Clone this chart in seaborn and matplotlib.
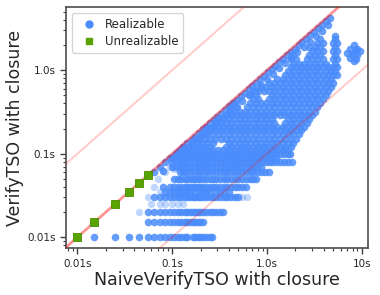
import matplotlib
matplotlib.use("Agg")
import matplotlib.pyplot as plt
import seaborn as sns
import pandas as pd
from matplotlib.lines import Line2D
from matplotlib.ticker import NullFormatter

# unrealizable instances (seconds)
unreal_naive = [0.01, 0.015, 0.025, 0.035, 0.045, 0.055]
unreal_verify = [0.01, 0.015, 0.025, 0.035, 0.045, 0.055]

# realizable instances, low VerifyTSO times come in rows (5 ms timer)
row_verify = [0.01, 0.015, 0.02, 0.03, 0.035, 0.04, 0.05, 0.06, 0.07, 0.08, 0.09, 0.1]
row_naive = [
    [0.015, 0.025, 0.035, 0.045, 0.055, 0.065, 0.075, 0.085, 0.095, 0.105, 0.115, 0.125, 0.135, 0.145,
     0.165, 0.175, 0.185, 0.195, 0.21, 0.23, 0.25, 0.265],
    [0.055, 0.065, 0.075, 0.085, 0.095, 0.105, 0.115, 0.125, 0.135, 0.145, 0.155, 0.165, 0.175, 0.185,
     0.195, 0.21],
    [0.055, 0.065, 0.075, 0.085, 0.095, 0.105, 0.115, 0.125, 0.135, 0.145, 0.155, 0.165, 0.175,
     0.185, 0.195, 0.21, 0.23, 0.25, 0.27, 0.29, 0.32, 0.34],
    [0.065, 0.075, 0.085, 0.095, 0.105, 0.115, 0.125, 0.135, 0.145, 0.155, 0.165, 0.175, 0.185,
     0.195, 0.21, 0.23, 0.25, 0.27, 0.29, 0.32, 0.35, 0.38, 0.42, 0.46, 0.5],
    [0.085, 0.095, 0.105, 0.115, 0.125, 0.135, 0.145, 0.155, 0.175, 0.195, 0.21, 0.23, 0.25,
     0.29, 0.32, 0.35, 0.4],
    [0.08, 0.095, 0.105, 0.115, 0.125, 0.135, 0.145, 0.155, 0.165, 0.175, 0.185, 0.195, 0.21, 0.23,
     0.25, 0.27, 0.29, 0.32, 0.35, 0.38, 0.42, 0.46, 0.5, 0.55, 0.6],
    [0.105, 0.115, 0.125, 0.135, 0.145, 0.155, 0.165, 0.175, 0.185, 0.195, 0.21, 0.23, 0.25,
     0.27, 0.29, 0.32, 0.35, 0.38, 0.42, 0.46, 0.5, 0.55, 0.6, 0.66, 0.72, 0.77],
    [0.12, 0.13, 0.14, 0.155, 0.17, 0.185, 0.2, 0.22, 0.24, 0.265, 0.29, 0.32, 0.35,
     0.38, 0.42, 0.46, 0.5, 0.55, 0.6, 0.66, 0.72, 0.79, 0.87, 0.95, 1.04],
    [0.1, 0.11, 0.12, 0.13, 0.14, 0.155, 0.17, 0.185, 0.2, 0.22, 0.24, 0.265, 0.29, 0.32, 0.35, 0.38,
     0.42, 0.46, 0.5, 0.55, 0.6, 0.66, 0.72, 0.79, 0.87],
    [0.11, 0.12, 0.13, 0.14, 0.155, 0.17, 0.185, 0.2, 0.22, 0.24, 0.265, 0.29, 0.32, 0.35, 0.38, 0.42,
     0.46, 0.5, 0.55, 0.6, 0.66, 0.72, 0.79, 0.87, 0.95, 1.04, 1.14, 1.25, 1.37, 1.5, 1.65, 1.85],
    [0.1, 0.11, 0.12, 0.13, 0.14, 0.155, 0.17, 0.185, 0.2, 0.22, 0.24, 0.265, 0.29, 0.32, 0.35, 0.38,
     0.42, 0.46, 0.5, 0.55, 0.6, 0.66, 0.72, 0.79, 0.87, 0.95, 1.04, 1.14, 1.25],
    [0.11, 0.12, 0.13, 0.14, 0.155, 0.17, 0.185, 0.2, 0.22, 0.24, 0.265, 0.29, 0.32, 0.35, 0.38, 0.42,
     0.46, 0.5, 0.55, 0.6, 0.66, 0.72, 0.79, 0.87, 0.95, 1.04, 1.14, 1.25, 1.37, 1.5, 1.65, 1.75],
]

# single (faint) realizable runs at the edges of the rows
faint_naive = [0.045, 0.06, 0.075, 0.085, 0.1, 0.115, 0.13, 0.055, 0.065, 0.075, 0.55, 0.62,
               0.085, 0.095, 0.105, 0.13, 0.15, 0.5, 0.42, 0.19, 0.07]
faint_verify = [0.02, 0.025, 0.025, 0.025, 0.025, 0.025, 0.025, 0.03, 0.04, 0.035, 0.03, 0.03,
                0.06, 0.07, 0.065, 0.1, 0.115, 0.065, 0.075, 0.13, 0.05]

# realizable instances above 0.1 s, the main cloud under the diagonal
cloud_verify = [0.11, 0.12, 0.135, 0.15, 0.17, 0.19, 0.21, 0.235, 0.26, 0.29, 0.32, 0.36, 0.4, 0.45,
                0.5, 0.56, 0.63, 0.7, 0.78, 0.87, 0.97, 1.08, 1.2, 1.35, 1.5, 1.68, 1.88, 2.1, 2.35, 2.6]
cloud_naive = [
    [0.122, 0.14, 0.16, 0.182, 0.207, 0.235, 0.267, 0.305, 0.347, 0.395, 0.45, 0.515, 0.585, 0.665,
     0.76, 0.865, 0.985, 1.12, 1.28, 1.46, 1.67],
    [0.13, 0.15, 0.17, 0.195, 0.22, 0.25, 0.37, 0.42, 0.48, 0.55, 0.62, 0.71, 0.81,
     0.92, 1.05, 1.2, 1.37, 1.56, 1.78],
    [0.16, 0.182, 0.207, 0.235, 0.267, 0.395, 0.45, 0.515, 0.585, 0.665, 0.76, 0.865,
     0.985, 1.12, 1.28, 1.46, 1.67, 1.9],
    [0.17, 0.195, 0.22, 0.25, 0.285, 0.325, 0.37, 0.42, 0.48, 0.55, 0.62, 0.71, 0.81, 0.92, 1.05,
     1.2, 1.37, 1.56, 1.78, 2.03],
    [0.207, 0.235, 0.267, 0.305, 0.347, 0.395, 0.45, 0.515, 0.585, 0.665, 0.76, 0.865, 0.985, 1.12,
     1.28, 1.46, 1.67, 1.9, 2.17],
    [0.22, 0.25, 0.285, 0.325, 0.37, 0.42, 0.48, 0.55, 0.62, 0.71, 0.81, 0.92, 1.05, 1.2, 1.37, 1.56,
     1.78, 2.03, 2.3],
    [0.235, 0.267, 0.305, 0.347, 0.395, 0.45, 0.515, 0.585, 0.665, 0.76, 0.865, 0.985, 1.12, 1.28,
     1.46, 1.67, 1.9, 2.17, 2.46],
    [0.285, 0.325, 0.37, 0.42, 0.48, 0.55, 0.62, 0.71, 0.81, 0.92, 1.05, 1.2, 1.56, 1.78, 2.03,
     2.3, 2.63],
    [0.305, 0.347, 0.395, 0.45, 0.515, 0.585, 0.665, 0.76, 0.865, 0.985, 1.12, 1.67, 1.9,
     2.17, 2.46, 2.8],
    [0.37, 0.42, 0.48, 0.55, 0.62, 0.71, 0.81, 0.92, 1.05, 1.2, 1.37, 1.56, 1.78, 2.03, 2.3, 2.63, 3.0],
    [0.395, 0.45, 0.515, 0.585, 0.665, 0.76, 0.865, 0.985, 1.12, 1.28, 1.46, 1.67, 1.9, 2.17, 2.46,
     2.8, 3.2],
    [0.42, 0.48, 0.62, 0.71, 0.81, 0.92, 1.05, 1.2, 1.37, 1.56, 1.78, 2.03, 2.3, 2.63, 3.0, 3.4],
    [0.45, 0.665, 0.76, 0.865, 0.985, 1.12, 1.28, 1.46, 1.67, 1.9, 2.17, 2.46, 2.8, 3.2, 3.65],
    [0.71, 0.81, 1.05, 1.2, 1.37, 1.56, 1.78, 2.03, 2.3, 2.63, 3.0, 3.4, 3.9],
    [0.665, 0.76, 1.12, 1.28, 1.46, 1.67, 1.9, 2.17, 2.46, 2.8, 3.2, 3.65, 4.15],
    [0.71, 0.81, 0.92, 1.05, 1.2, 1.37, 1.56, 1.78, 2.03, 2.3, 2.63, 3.0, 3.4, 3.9, 4.4],
    [0.865, 0.985, 1.12, 1.28, 1.46, 1.67, 1.9, 2.17, 2.46, 2.8, 3.2, 3.65, 4.15, 4.7],
    [1.05, 1.2, 1.37, 1.56, 1.78, 2.03, 2.3, 2.63, 3.0, 3.4, 3.9, 4.4, 5.0],
    [1.28, 1.46, 1.67, 1.9, 2.17, 2.46, 2.8, 3.2, 3.65, 4.15, 4.7],
    [1.56, 1.78, 2.03, 2.3, 2.63, 3.0, 3.4, 3.9, 4.4, 5.0, 5.5],
    [1.67, 1.9, 2.17, 2.46, 2.8, 3.2, 3.65, 4.15, 4.7, 5.25],
    [1.78, 2.03, 2.3, 2.63, 3.0, 3.4, 3.9, 4.4, 5.0, 5.5],
    [1.9, 2.17, 2.46, 2.8, 3.2, 3.65, 4.15, 5.25],
    [1.78, 2.03, 2.63, 3.0, 3.4, 3.9, 5.0, 5.5],
    [1.9, 2.8, 3.2, 3.65, 5.25],
    [3.0, 3.4, 3.9, 5.0, 5.5],
    [2.8, 3.2, 3.65, 5.25],
    [3.4, 3.9, 5.0, 5.5],
    [3.65, 5.25],
    [5.25],
]

# realizable instances just under the diagonal (two strands of the band)
band_naive = [0.065, 0.075, 0.085, 0.095, 0.105, 0.115, 0.13, 0.145, 0.16, 0.175, 0.19, 0.21, 0.23,
              0.25, 0.275, 0.3, 0.33, 0.36, 0.4, 0.44, 0.48, 0.53, 0.58, 0.64, 0.7, 0.77, 0.85, 0.93,
              1.02, 1.12, 1.23, 1.35, 1.48, 1.63, 1.79, 1.97, 2.16, 2.37, 2.6, 2.86, 3.14, 3.45, 3.79,
              4.16, 4.57]
band_verify = [0.06, 0.07, 0.08, 0.09, 0.095, 0.105, 0.12, 0.135, 0.145, 0.16, 0.175, 0.195, 0.21,
               0.23, 0.25, 0.275, 0.3, 0.33, 0.37, 0.4, 0.44, 0.49, 0.53, 0.59, 0.64, 0.71, 0.78, 0.86,
               0.94, 1.03, 1.13, 1.24, 1.36, 1.5, 1.65, 1.81, 1.99, 2.18, 2.39, 2.63, 2.89, 3.17, 3.49,
               3.83, 4.2]
band2_naive = [0.08, 0.1, 0.12, 0.14, 0.165, 0.19, 0.22, 0.26, 0.3, 0.35, 0.41, 0.47, 0.55, 0.64,
               0.74, 0.86, 1.0, 1.16, 1.35, 1.56, 1.81, 2.1, 2.44, 2.83, 3.28, 3.8, 4.4]
band2_verify = [0.0625, 0.078, 0.094, 0.109, 0.129, 0.148, 0.172, 0.203, 0.234, 0.273, 0.32, 0.367,
                0.43, 0.5, 0.577, 0.67, 0.78, 0.905, 1.05, 1.22, 1.41, 1.64, 1.9, 2.2, 2.56, 2.96, 3.43]

# small group of slow naive runs on the right
right_naive = [7.0, 7.5, 7.5, 7.8, 8.2, 8.2, 8.2, 8.6, 8.8, 9.0, 9.0, 9.5]
right_verify = [1.6, 1.4, 1.8, 1.55, 1.3, 1.6, 2.0, 1.75, 1.35, 1.5, 1.8, 1.7]

BLUE = "#4a8cfb"
GREEN = "#58a300"

xs, ys = [], []
for v, row in zip(row_verify, row_naive):
    xs += row
    ys += [v] * len(row)
for v, row in zip(cloud_verify, cloud_naive):
    xs += row
    ys += [v] * len(row)
xs += band_naive + band2_naive + right_naive
ys += band_verify + band2_verify + right_verify
real = pd.DataFrame({"naive": xs, "verify": ys})
faint = pd.DataFrame({"naive": faint_naive, "verify": faint_verify})
unreal = pd.DataFrame({"naive": unreal_naive, "verify": unreal_verify})

sns.set_style("ticks")
fig, ax = plt.subplots(figsize=(3.8, 2.95), dpi=100)
fig.subplots_adjust(left=0.174, right=0.968, bottom=0.159, top=0.976)

sns.scatterplot(data=faint, x="naive", y="verify", color=BLUE, alpha=0.35, s=28,
                linewidth=0, ax=ax, zorder=2)
sns.scatterplot(data=real, x="naive", y="verify", color=BLUE, alpha=0.85, s=30,
                linewidth=0, ax=ax, zorder=2)
ax.set_xscale("log")
ax.set_yscale("log")
ax.axline((0.01, 0.01), (1, 1), color="red", alpha=0.42, lw=2, zorder=3)
ax.axline((0.01, 0.1), (1, 10), color="red", alpha=0.2, lw=1.5, zorder=3)
ax.axline((0.1, 0.01), (10, 1), color="red", alpha=0.2, lw=1.5, zorder=3)
sns.scatterplot(data=unreal, x="naive", y="verify", color=GREEN, marker="s", s=30,
                linewidth=0.6, edgecolor="#4a8c00", ax=ax, zorder=4)

ax.set_xlim(0.0076, 11.6)
ax.set_ylim(0.0074, 5.7)
ax.set_xticks([0.01, 0.1, 1, 10])
ax.set_xticklabels(["0.01s", "0.1s", "1.0s", "10s"])
ax.set_yticks([0.01, 0.1, 1])
ax.set_yticklabels(["0.01s", "0.1s", "1.0s"])
ax.xaxis.set_minor_formatter(NullFormatter())
ax.yaxis.set_minor_formatter(NullFormatter())
ax.tick_params(which="major", length=4, width=1, labelsize=7.5, color="0.25")
ax.tick_params(which="minor", length=2, width=0.8, color="0.25")
for sp in ax.spines.values():
    sp.set_color("0.3")
    sp.set_linewidth(1.2)

ax.set_xlabel("NaiveVerifyTSO with closure", fontsize=12.5, labelpad=2)
ax.set_ylabel("VerifyTSO with closure", fontsize=12.5, labelpad=2)

handles = [Line2D([], [], marker="o", ls="", color=BLUE, markersize=5),
           Line2D([], [], marker="s", ls="", color=GREEN, markersize=5)]
ax.legend(handles, ["Realizable", "Unrealizable"], loc="upper left", fontsize=8.5,
          handletextpad=0.4, borderpad=0.4, labelspacing=0.35)

fig.savefig("out.png", dpi=100)
